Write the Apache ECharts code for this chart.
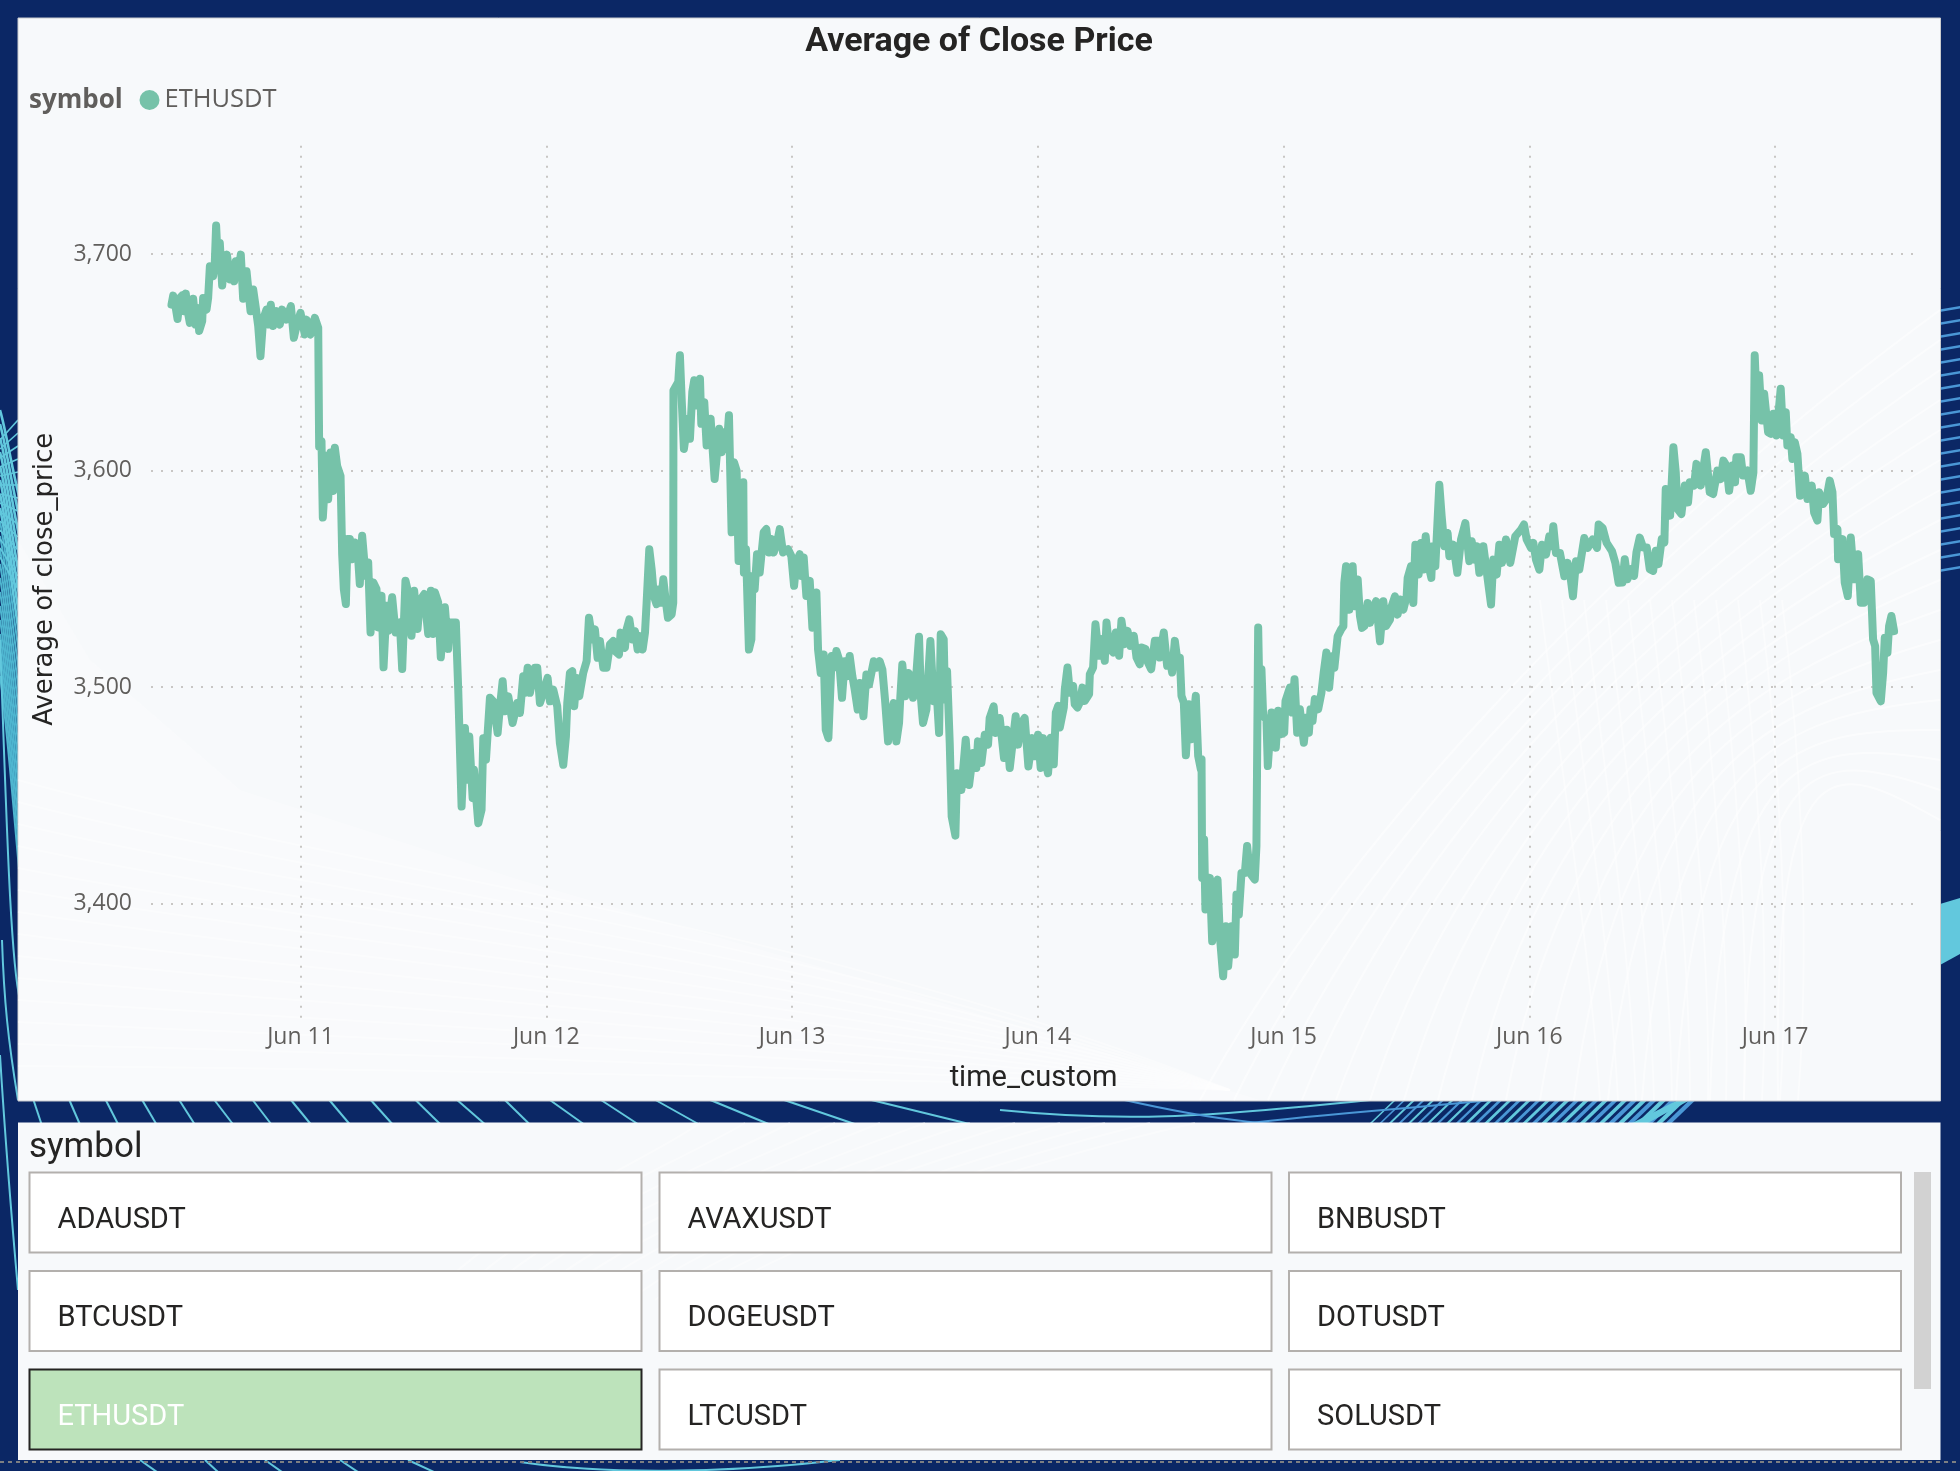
<!DOCTYPE html>
<html><head><meta charset="utf-8">
<style>html,body{margin:0;padding:0;background:#0B2765}#c{width:1960px;height:1471px}</style>
<script src="https://cdn.jsdelivr.net/npm/echarts@6/dist/echarts.min.js"></script>
</head><body><div id="c"></div>
<script>
const chartTitle='Average of Close Price';
const legendField='symbol';
const seriesName='ETHUSDT';
const xAxisTitle='time_custom';
const yAxisTitle='Average of close_price';
const slicerTitle='symbol';
const slicerSymbols=['ADAUSDT','AVAXUSDT','BNBUSDT','BTCUSDT','DOGEUSDT','DOTUSDT','ETHUSDT','LTCUSDT','SOLUSDT'];
const selectedSymbol='ETHUSDT';
const firstDay=Date.UTC(2024,5,11);
// [hours since Jun 11 00:00, average close price]
const closeDay0=[[-12.6,3676.6],[-12.43,3680.8],[-12.21,3675.9],[-12.01,3670],[-11.78,3679.7],[-11.56,3680.8],[-11.36,3673.6],[-11.2,3681.7],[-11.04,3674.3],[-10.81,3668.2],[-10.48,3679.3],[-10.25,3667.4],[-10.06,3675.1],[-9.9,3664.4],[-9.6,3669],[-9.51,3679.7],[-9.18,3674.3],[-9.02,3679.7],[-8.85,3694.3],[-8.53,3689.7],[-8.37,3695.9],[-8.24,3713.1],[-8.04,3692.8],[-7.88,3705.1],[-7.65,3685.4],[-7.39,3697.4],[-7.19,3699.7],[-6.87,3688.2],[-6.74,3694.3],[-6.48,3687.4],[-6.32,3696.6],[-6.09,3691.2],[-5.83,3699.7],[-5.6,3679.3],[-5.27,3692],[-4.88,3673.6],[-4.62,3683.6],[-4.39,3675.9],[-4.13,3666.7],[-3.91,3652.8],[-3.65,3669.7],[-3.32,3674.3],[-3.09,3667.4],[-2.9,3676.6],[-2.67,3666.7],[-2.34,3673.6],[-2.02,3667.4],[-1.79,3674.3],[-1.37,3669.7],[-0.94,3675.9],[-0.65,3661.3],[-0.39,3666.7]];
const closeDay1=[[0,3672.8],[0.42,3662.8],[0.59,3669.7],[0.98,3662.8],[1.4,3670.5],[1.73,3665.9],[1.82,3611],[2.05,3613.7],[2.18,3578.3],[2.54,3606.8],[2.7,3586.8],[2.93,3608.3],[3.19,3590.6],[3.35,3610.6],[3.58,3602.1],[3.91,3597.5],[4.07,3561.4],[4.23,3545.3],[4.43,3538.4],[4.59,3568.4],[4.82,3568.4],[5.05,3559.1],[5.31,3566.8],[5.57,3563.7],[5.79,3547.6],[6.02,3569.9],[6.18,3570.7],[6.35,3551.5],[6.61,3557.6],[6.84,3525.3],[7.1,3548.4],[7.42,3545.3],[7.58,3527.6],[7.91,3542.2],[8.11,3509.2],[8.4,3537.6],[8.56,3526.1],[8.95,3541.5],[9.28,3525.3],[9.7,3529.9],[9.93,3508.4],[10.25,3549.2],[10.51,3543.8],[10.84,3523.8],[11.1,3544.5],[11.43,3526.9],[11.65,3539.9],[12.08,3543],[12.47,3524.6],[12.73,3544.5],[12.96,3524.6],[13.12,3543.8],[13.44,3539.2],[13.7,3513.8],[14.1,3536.9],[14.42,3517.7],[14.58,3529.9],[15.17,3529.9],[15.4,3499.2],[15.73,3444.9],[16.06,3481.2],[16.29,3457.3],[16.48,3477.3],[16.81,3448.8],[16.94,3461.9],[17.36,3437.2],[17.68,3443.4],[17.85,3476.5],[18.11,3466.5],[18.5,3495.1],[18.82,3493.5],[19.25,3478.9],[19.48,3491.2],[19.74,3502.8],[19.96,3488.9],[20.29,3495.8],[20.71,3483.5],[21.17,3492.7],[21.43,3488.1],[21.75,3505.1],[21.92,3497.4],[22.18,3509],[22.4,3497.4],[22.89,3509],[23.12,3509],[23.38,3492.7],[23.71,3497.4]];
const closeDay2=[[24.13,3504.3],[24.36,3493.5],[24.68,3498.9],[25.07,3491.2],[25.33,3474.2],[25.66,3464.2],[25.92,3477.3],[26.05,3492.7],[26.31,3506.6],[26.54,3507.4],[26.73,3491.2],[26.96,3504.3],[27.22,3495.8],[27.61,3506.6],[27.94,3512],[28.17,3532.1],[28.49,3522.1],[28.75,3526.7],[29.01,3513.6],[29.24,3521.3],[29.57,3509],[29.89,3509],[30.22,3519.8],[30.54,3521.3],[30.71,3516.7],[31.1,3515.1],[31.26,3525.2],[31.68,3518.2],[31.85,3526.7],[32.11,3531.3],[32.4,3522.1],[32.66,3525.9],[32.92,3517.4],[33.15,3523.6],[33.41,3517.4],[33.64,3525.2],[33.8,3539],[34.06,3563.7],[34.29,3554.5],[34.51,3542.1],[34.77,3538.3],[35.04,3545.2],[35.2,3539],[35.43,3549.8],[35.65,3540.6],[35.88,3532.1],[36.24,3533.6],[36.4,3539],[36.42,3637],[36.89,3640.9],[37.05,3653.2],[37.22,3633.2],[37.44,3610],[37.87,3623.9],[38.03,3614.7],[38.26,3636.3],[38.45,3641.7],[38.68,3630.1],[39.01,3642.4],[39.14,3621.6],[39.43,3631.6],[39.66,3611.6],[40.05,3623.9],[40.44,3596.1],[40.89,3619.3],[41.12,3608.5],[41.38,3617.7],[41.61,3610],[41.84,3625.5],[42.1,3571.5],[42.33,3603.9],[42.59,3600],[42.78,3558.3],[43.24,3594.6],[43.3,3552.9],[43.5,3563.7],[43.79,3517.4],[44.03,3522.1],[44.13,3551.4],[44.35,3545.2],[44.58,3561.4],[44.84,3552.9],[45,3560.6],[45.23,3571.5],[45.49,3573],[45.75,3562.2],[45.98,3568.4],[46.21,3562.2],[46.54,3566.8],[46.8,3573],[47.12,3562.2],[47.61,3563.7],[47.93,3560.6]];
const closeDay3=[[48.2,3546.8],[48.42,3557.6],[48.75,3561.4],[48.91,3551.4],[49.14,3559.9],[49.4,3542.1],[49.73,3549.1],[49.99,3527.5],[50.38,3543.7],[50.54,3517.4],[50.8,3506.6],[51.09,3515.1],[51.29,3480.4],[51.55,3476.5],[51.87,3514.4],[52.1,3509],[52.33,3516.7],[52.59,3512.8],[52.88,3495.1],[53.14,3512],[53.37,3505.1],[53.63,3514.4],[53.89,3505.1],[54.12,3498.9],[54.41,3489.7],[54.61,3502],[54.97,3486.6],[55.26,3505.9],[55.52,3501.2],[55.98,3512],[56.24,3509],[56.56,3512],[56.82,3508.2],[57.08,3494.3],[57.38,3475],[57.7,3488.1],[57.93,3492.7],[58.19,3475],[58.45,3483.5],[58.58,3495.8],[58.77,3510.5],[59.04,3495.8],[59.36,3506.6],[59.59,3505.1],[59.82,3495.1],[60.08,3502],[60.4,3523.3],[60.6,3494.3],[60.79,3483.5],[61.12,3489.7],[61.28,3503.5],[61.51,3521.3],[61.83,3493.5],[62.03,3505.1],[62.36,3478.9],[62.52,3524.4],[62.81,3522.1],[62.94,3494.3],[63.14,3507.4],[63.4,3474.2],[63.59,3440.3],[63.95,3431.5],[64.11,3460.3],[64.54,3452.6],[64.96,3475.8],[65.29,3454.9],[65.68,3469.6],[66,3462.7],[66.16,3475],[66.49,3465],[66.82,3478.1],[67.14,3473.5],[67.3,3485.8],[67.69,3491.2],[67.89,3478.9],[68.28,3485.8],[68.7,3467.3],[68.96,3480.4],[69.26,3462.7],[69.84,3486.6],[70.07,3473.5],[70.4,3483.5],[70.72,3485.8],[71.08,3463.4],[71.47,3476.5],[71.7,3468.1]];
const closeDay4=[[72.02,3478.1],[72.28,3462.7],[72.51,3476.5],[72.77,3465],[73,3460.3],[73.27,3476.7],[73.56,3464.4],[73.76,3488.3],[73.99,3491.4],[74.15,3481.4],[74.54,3490.6],[74.64,3499.1],[74.9,3509.1],[75.13,3497.5],[75.45,3500.6],[75.61,3492.1],[75.87,3490.6],[76.1,3492.9],[76.36,3499.8],[76.59,3493.7],[77.01,3496.8],[77.08,3506],[77.4,3509.1],[77.63,3529.1],[77.96,3514.5],[78.22,3522.2],[78.54,3512.2],[78.71,3529.9],[78.97,3518.3],[79.36,3516],[79.62,3525.3],[79.94,3514.5],[80.17,3530.7],[80.5,3519.9],[80.76,3526],[81.05,3519.1],[81.38,3523.7],[81.64,3513.7],[81.96,3510.6],[82.13,3518.3],[82.52,3517.6],[82.68,3512.2],[83.07,3508.3],[83.43,3521.4],[83.75,3521.4],[83.91,3513.7],[84.3,3525.3],[84.63,3509.9],[84.89,3512.9],[85.12,3506.8],[85.38,3521.4],[85.7,3509.9],[85.87,3513.7],[86.03,3496],[86.26,3492.9],[86.46,3468.6],[86.75,3492.1],[87.01,3476],[87.43,3496],[87.66,3468.3],[87.92,3462.1],[87.99,3466.7],[88.05,3412],[88.24,3429.7],[88.37,3397.4],[88.8,3412],[89.03,3382.7],[89.29,3408.2],[89.55,3411.2],[89.78,3385.1],[90.1,3366.6],[90.36,3389.7],[90.59,3371.2],[90.92,3389.7],[91.24,3376.6],[91.4,3404.3],[91.63,3395],[91.89,3414.3],[92.22,3414.3],[92.44,3426.7],[92.7,3414.3],[93.19,3411.2],[93.35,3426.7],[93.52,3527.6],[93.68,3486.7],[93.84,3508.3],[94.01,3486.7],[94.33,3485.2],[94.46,3463.6],[94.82,3488.3],[94.99,3477.5],[95.24,3472.1],[95.47,3489.1],[95.7,3478.3]];
const closeDay5=[[96.06,3479],[96.19,3493.7],[96.61,3499.8],[96.84,3488.3],[97.07,3503.7],[97.33,3479],[97.59,3489.8],[97.98,3474.4],[98.24,3486],[98.47,3479],[98.63,3489.8],[98.83,3484.4],[99.05,3494.5],[99.38,3489.8],[99.7,3497.5],[99.92,3506.8],[100.18,3516],[100.45,3499.8],[100.73,3514.3],[100.96,3508.9],[101.28,3523.5],[101.61,3526.6],[101.84,3528.2],[101.93,3548.2],[102.1,3555.8],[102.42,3535.8],[102.75,3555.8],[102.91,3537.4],[103.24,3549.7],[103.46,3532.8],[103.66,3527.4],[103.89,3528.2],[104.21,3538.9],[104.44,3529.7],[104.7,3535.8],[105.03,3539.7],[105.42,3521.2],[105.74,3539.7],[106,3528.2],[106.39,3531.2],[106.56,3537.4],[106.88,3542],[107.14,3533.5],[107.4,3540.5],[107.7,3535.8],[108.02,3542],[108.12,3550.5],[108.44,3555.8],[108.67,3538.9],[108.87,3565.8],[109.19,3552],[109.42,3566.6],[109.65,3554.3],[109.88,3569.7],[110.1,3557.4],[110.43,3550.5],[110.56,3565.1],[110.82,3555.8],[111.21,3593.5],[111.44,3578.9],[111.7,3565.1],[112.02,3571.2],[112.19,3560.5],[112.58,3565.8],[112.97,3552.8],[113.33,3568.2],[113.75,3575.8],[114.14,3558.2],[114.37,3567.4],[114.69,3558.9],[114.86,3565.1],[115.12,3552.8],[115.51,3565.1],[115.77,3555.8],[116.26,3538.2],[116.48,3558.9],[116.81,3552],[117.07,3565.8],[117.33,3557.4],[117.72,3568.2],[118.14,3557.4],[118.63,3569.7],[119.19,3572.8],[119.48,3575.1],[119.74,3568.2]];
const closeDay6=[[120.16,3564.3],[120.39,3566.6],[120.65,3558.9],[120.98,3554.3],[121.24,3565.8],[121.63,3561.2],[121.95,3569.7],[122.18,3565.1],[122.34,3574.3],[122.6,3562],[122.99,3562],[123.42,3551.2],[123.74,3557.4],[123.97,3552.8],[124.26,3542],[124.56,3558.2],[124.88,3554.3],[125.37,3568.9],[125.7,3564.3],[126.18,3568.2],[126.61,3564.3],[126.77,3575.1],[127.16,3573.5],[127.55,3566.6],[128.07,3562.8],[128.4,3557.4],[128.72,3548.2],[129.09,3548.3],[129.32,3559.1],[129.58,3549.8],[129.9,3554.5],[130.23,3551.4],[130.46,3562.2],[130.78,3569.1],[131.11,3564.5],[131.47,3564.5],[131.76,3554.5],[132.09,3553.7],[132.35,3563],[132.61,3556.8],[132.93,3568.4],[133.19,3566.8],[133.32,3591.5],[133.75,3579.2],[134.07,3610.8],[134.3,3599.2],[134.46,3582.3],[134.85,3579.9],[135.18,3593.1],[135.5,3585.3],[135.67,3594.6],[136.09,3593.1],[136.32,3603.1],[136.74,3593.1],[137.23,3608.5],[137.62,3590],[137.95,3589.2],[138.37,3600],[138.69,3596.1],[138.95,3604.6],[139.25,3602.3],[139.51,3590.7],[139.83,3602.3],[140.09,3594.6],[140.22,3606.2],[140.65,3606.2],[140.87,3597.7],[141.3,3600],[141.62,3590.7],[141.88,3599.2],[142.01,3653.2],[142.18,3633.2],[142.44,3644],[142.7,3623.1],[142.93,3635.5],[143.32,3617.7],[143.58,3617],[143.84,3626.2]];
const closeDay7=[[144.13,3616.2],[144.55,3637.8],[144.78,3616.2],[145.04,3627],[145.2,3611.6],[145.53,3615.4],[145.69,3605.4],[145.92,3613.1],[146.18,3607.7],[146.44,3588.4],[146.9,3597.7],[147.16,3586.9],[147.58,3593.1],[147.81,3580.7],[148.13,3576.9],[148.3,3590],[148.69,3584.6],[149.01,3586.9],[149.34,3595.4],[149.6,3590],[149.76,3570.7],[150.09,3573],[150.15,3559.1],[150.58,3568.4],[150.8,3548.3],[151.1,3542.1],[151.39,3569.1],[151.71,3549.8],[152.11,3561.4],[152.37,3539],[152.69,3539],[153.02,3549.8],[153.34,3549.1],[153.57,3522.1],[153.77,3519],[153.9,3497.4],[154.32,3493.5],[154.55,3506.6],[154.71,3522.8],[154.97,3515.9],[155.13,3528.2],[155.36,3532.9],[155.62,3525.9]];
const closePoints=[...closeDay0,...closeDay1,...closeDay2,...closeDay3,...closeDay4,...closeDay5,...closeDay6,...closeDay7];
const HOUR=3600000;
const seriesData=closePoints.map(p=>[firstDay+p[0]*HOUR,p[1]]);

// ---- decorative report background ----
const deco=[];
function bez(x1,y1,cpx1,cpy1,cpx2,cpy2,x2,y2,stroke,w,z){deco.push({type:'bezierCurve',silent:true,z:z==null?-20:z,shape:{x1,y1,cpx1,cpy1,cpx2,cpy2,x2,y2},style:{fill:null,stroke,lineWidth:w}});}
function seg(x1,y1,x2,y2,stroke,w,z){deco.push({type:'line',silent:true,z:z==null?-20:z,shape:{x1,y1,x2,y2},style:{stroke,lineWidth:w}});}
function poly(points,fill,z){deco.push({type:'polygon',silent:true,z:z==null?-20:z,shape:{points},style:{fill}});}
function rect(x,y,width,height,fill,stroke,lw,z){deco.push({type:'rect',silent:true,z:z==null?-10:z,shape:{x,y,width,height},style:{fill,stroke:stroke||null,lineWidth:lw||0}});}
const CY='#62C8DD',BL='#4A97D6',WH='rgba(255,255,255,0.55)';
[[52,65],[108,125],[165,185],[222,245],[280,305],[335,365],[395,425],[455,487],[515,548],[580,615],[650,690],[715,760],[790,830],[860,915],[940,1000],[1025,1095],[1110,1205],[1225,1340],[1360,1520]].forEach(f=>{
  seg(f[0]/1.568,1099,f[1]/1.568,1124,CY,2);
});
for(let i=0;i<32;i++){const x=1396+i*9.6;seg(x,1099,x-26,1124,i%2?BL:CY,1.6+i*0.09);}
poly([[1680,1099],[1692,1099],[1646,1124],[1630,1124]],CY);
bez(1000,1110,1120,1122,1200,1118,1370,1100,CY,2);
bez(1120,1099,1230,1124,1280,1126,1330,1124,BL,2);
bez(1240,1124,1340,1112,1420,1108,1500,1099,BL,2);
for(let i=0;i<20;i++){bez(0,410+i*14,6,430+i*15,12,470+i*17,20,500+i*20,i<8?CY:'#4FB6D0',i<8?2.6:2);}
for(let i=0;i<14;i++){seg(0,440+i*9,18,420+i*13,CY,1.6);}
bez(0,640,6,800,10,960,20,1000,CY,2);
bez(0,1055,4,1120,10,1200,18,1290,CY,2);
bez(2,940,4,1000,8,1040,18,1100,CY,2);
for(let i=0;i<21;i++){seg(1938,311+i*13,1962,307+i*13,BL,2.4);}
poly([[1940,904],[1960,898],[1960,954],[1940,965]],CY);
[[140,157],[205,218],[265,282],[340,358],[408,434]].forEach(f=>seg(f[0],1460,f[1],1472,CY,2));
bez(520,1462,600,1474,720,1474,840,1460,CY,2);
rect(18,18,1922.5,1083,'#F7F9FB','#C9CBCE',1,-15);
rect(18,1122.5,1922.5,337.5,'#F7F9FB',null,0,-15);
poly([[18,540],[90,660],[240,790],[520,880],[900,990],[1260,1100],[18,1100]],'rgba(255,255,255,0.28)',-14);
for(let i=0;i<18;i++){bez(1200+i*34,1100,1330+i*26,860-i*8,1600+i*14,560+i*12,1940,310+i*30,WH,2,-14);}
for(let i=0;i<12;i++){bez(1540+i*22,600,1560+i*22,760,1590+i*20,950,1600+i*18,1100,'rgba(255,255,255,0.45)',2,-14);}
for(let i=0;i<14;i++){bez(18,780+i*22,300,860+i*16,800,920+i*12,1230,1090,'rgba(255,255,255,0.4)',2,-14);}
for(let i=0;i<12;i++){bez(700+i*45,1123,650+i*35,1160,480+i*30,1230,430+i*25,1300,'rgba(255,255,255,0.4)',2,-14);}
seg(0,1462,1960,1462,'#7D7F82',2,-9);
deco[deco.length-1].style.lineDash=[4,4];
rect(1914,1172,17,217,'#D2D2D2',null,0);
const texts=[];
texts.push({type:'text',silent:true,z:5,style:{x:29,y:101,text:legendField,font:'bold 26px "Open Sans"',fill:'#605E5C',verticalAlign:'middle'}});
texts.push({type:'text',silent:true,z:5,style:{x:29,y:1148,text:slicerTitle,font:'35px Roboto',fill:'#252423',verticalAlign:'middle'}});
const colX=[29.5,659.5,1289];const rowY=[1172.5,1271,1369.5];const btnW=612,btnH=80;
slicerSymbols.forEach((s,i)=>{
  const c=i%3,r=Math.floor(i/3),sel=s===selectedSymbol;
  rect(colX[c],rowY[r],btnW,btnH,sel?'#BDE3BB':'#FFFFFF',sel?'#252423':'#B3B0AD',2,1);
  texts.push({type:'text',silent:true,z:5,style:{x:colX[c]+28,y:rowY[r]+48,text:s,font:'29px Roboto',fill:sel?'#FFFFFF':'#252423',verticalAlign:'middle'}});
});

const chart=echarts.init(document.getElementById('c'),null,{width:1960,height:1471});
chart.setOption({
  animation:false,
  useUTC:true,
  backgroundColor:'#0B2765',
  title:{text:chartTitle,left:979,top:42,padding:0,textAlign:'center',textVerticalAlign:'middle',textStyle:{fontFamily:'Roboto',fontWeight:'bold',fontSize:34,color:'#252423'}},
  legend:{left:139.5,top:87,padding:0,itemWidth:20,itemHeight:20,itemGap:5,icon:'circle',data:[seriesName],textStyle:{fontFamily:'"Open Sans"',fontSize:25.5,color:'#605E5C'}},
  grid:{left:151,right:44,top:145.65,height:877.35,containLabel:false},
  xAxis:{type:'time',min:firstDay-14.6*HOUR,max:firstDay+157.76*HOUR,splitNumber:7,minInterval:24*HOUR,maxInterval:24*HOUR,
    name:xAxisTitle,nameLocation:'middle',nameGap:41,nameTextStyle:{fontFamily:'Roboto',fontSize:29,color:'#252423',padding:[0,0,0,0]},
    axisLine:{show:false},axisTick:{show:false},
    axisLabel:{showMinLabel:false,showMaxLabel:false,margin:3,fontFamily:'"Open Sans"',fontSize:23,color:'#605E5C',
      formatter:v=>{const d=new Date(v);return d.getUTCHours()===0?'Jun '+d.getUTCDate():'';}},
    splitLine:{show:true,showMinLine:false,showMaxLine:false,lineStyle:{color:'#C8C6C4',width:2,type:[2,8]}}},
  yAxis:{type:'value',min:3345,max:3750,splitNumber:4,
    name:yAxisTitle,nameLocation:'middle',nameGap:93,nameRotate:90,nameTextStyle:{fontFamily:'"DejaVu Sans"',fontSize:26,color:'#252423',padding:[0,0,0,10]},
    axisLine:{show:false},axisTick:{show:false},
    axisLabel:{showMinLabel:false,showMaxLabel:false,margin:19,fontFamily:'"Open Sans"',fontSize:23,color:'#605E5C',padding:[5,0,0,0],
      formatter:v=>v%100===0?v.toLocaleString('en-US'):''},
    splitLine:{show:true,showMinLine:false,showMaxLine:false,lineStyle:{color:'#C8C6C4',width:2,type:[2,8]}}},
  series:[{name:seriesName,type:'line',data:seriesData,showSymbol:false,symbol:'circle',sampling:null,
    lineStyle:{color:'#76C2A9',width:8,cap:'round',join:'round'},itemStyle:{color:'#76C2A9'},clip:true,z:3}],
  graphic:{elements:[...deco,...texts]}
});
</script></body></html>
